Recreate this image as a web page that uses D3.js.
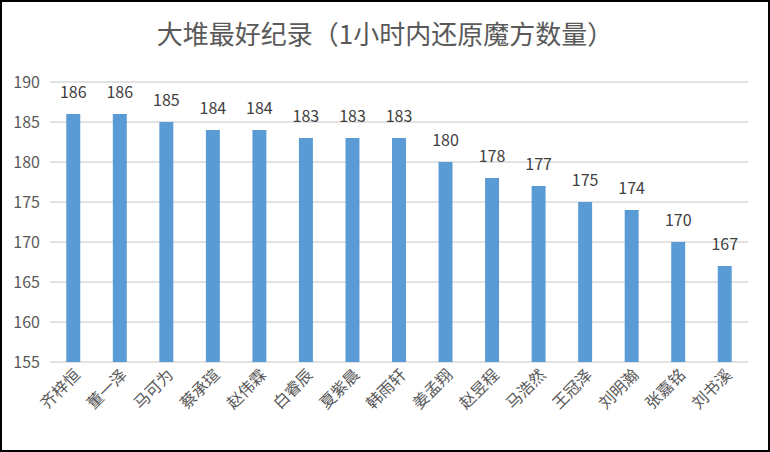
<!DOCTYPE html>
<html><head><meta charset="utf-8">
<script src="https://cdn.jsdelivr.net/npm/d3@7/dist/d3.min.js"></script>
<style>body{margin:0;background:#fff}svg{display:block}</style>
</head><body>
<svg id="c" width="770" height="452"></svg>
<script>
const names = ["齐梓恒","董一泽","马可为","蔡承瑄","赵伟霖","白睿辰","夏紫晨","韩雨轩","姜孟翔","赵昱程","马浩然","王冠泽","刘明瀚","张嘉铭","刘书溪"];
const values = [186,186,185,184,184,183,183,183,180,178,177,175,174,170,167];
const yTicks = [155,160,165,170,175,180,185,190];
const title = "大堆最好纪录（1小时内还原魔方数量）";

const svg = d3.select("#c");
const font = "'Noto Sans CJK SC', 'DejaVu Sans', sans-serif";
svg.append("rect").attr("x",1).attr("y",1).attr("width",768).attr("height",450).attr("fill","#fff").attr("stroke","#000").attr("stroke-width",2);

const x = d3.scaleBand().domain(names).range([50,748]).paddingInner(0.7).paddingOuter(0.35);
const y = d3.scaleLinear().domain([155,190]).range([362,82]);

svg.append("g").selectAll("line").data(yTicks).join("line")
  .attr("x1",50).attr("x2",748).attr("y1",d=>y(d)).attr("y2",d=>y(d))
  .attr("stroke","#d9d9d9").attr("stroke-width",1.5);

svg.append("g").selectAll("text").data(yTicks).join("text")
  .attr("x",40).attr("y",d=>y(d)+6).attr("text-anchor","end")
  .attr("font-family",font).attr("font-size",16).attr("fill","#595959").text(d=>d);

svg.append("g").selectAll("rect").data(values).join("rect")
  .attr("x",(d,i)=>x(names[i])).attr("width",x.bandwidth())
  .attr("y",d=>y(d)).attr("height",d=>y(155)-y(d)).attr("fill","#5b9bd5");

svg.append("g").selectAll("text").data(values).join("text")
  .attr("x",(d,i)=>x(names[i])+x.bandwidth()/2).attr("y",d=>y(d)-16)
  .attr("text-anchor","middle").attr("font-family",font).attr("font-size",16).attr("fill","#404040").text(d=>d);

svg.append("g").selectAll("text").data(names).join("text")
  .attr("transform",d=>`translate(${x(d)+x.bandwidth()/2+8},${376}) rotate(-45)`)
  .attr("text-anchor","end").attr("font-family",font).attr("font-size",16).attr("fill","#595959").text(d=>d);

svg.append("text").attr("x",385).attr("y",44).attr("text-anchor","middle")
  .attr("font-family",font).attr("font-size",26).attr("fill","#595959").text(title);
</script>
</body></html>
